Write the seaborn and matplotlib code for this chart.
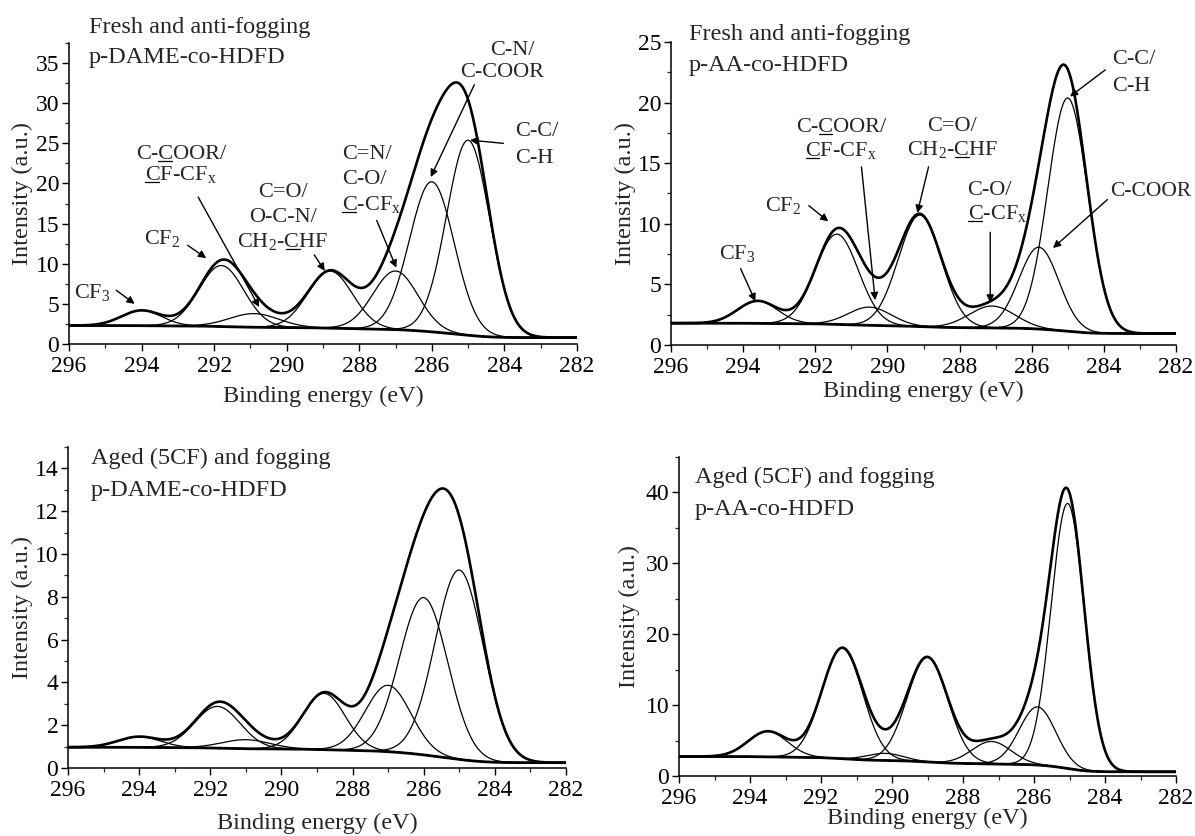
#============================= IMPORT LIBRARIES =============================

import numpy as np
import matplotlib
matplotlib.use("Agg")
import matplotlib.pyplot as plt
from matplotlib.ticker import MultipleLocator
from matplotlib.transforms import offset_copy, IdentityTransform
from matplotlib.text import Text
from matplotlib.lines import Line2D
import seaborn as sns

#============================= DATA =====================
# fitted C1s components: centre (eV), height above background, FWHM (eV)
# background = Shirley step between the high-BE and low-BE levels

p1_center = [294.0, 291.8, 290.9, 288.8, 287.0, 286.0, 285.0]
p1_height = [1.9, 7.6, 1.7, 7.1, 7.3, 18.7, 24.3]
p1_fwhm = [1.3, 1.45, 1.6, 1.45, 1.45, 1.45, 1.4]
p1_bg = [2.3, 0.8]

p2_center = [293.6, 291.4, 290.5, 289.1, 287.1, 285.8, 285.0]
p2_height = [1.85, 7.45, 1.5, 9.2, 1.8, 6.75, 19.25]
p2_fwhm = [1.3, 1.4, 1.4, 1.4, 1.5, 1.3, 1.3]
p2_bg = [1.8, 0.95]

p3_center = [294.0, 291.8, 291.0, 288.8, 287.0, 286.0, 285.0]
p3_height = [0.5, 1.95, 0.42, 2.63, 3.1, 7.35, 8.85]
p3_fwhm = [1.4, 1.5, 1.6, 1.4, 1.5, 1.6, 1.6]
p3_bg = [0.97, 0.25]

p4_center = [293.5, 291.4, 290.2, 289.0, 287.2, 285.9, 285.05]
p4_height = [3.6, 15.6, 1.0, 14.75, 3.15, 8.2, 37.4]
p4_fwhm = [1.3, 1.35, 1.2, 1.35, 1.3, 1.2, 1.1]
p4_bg = [2.75, 0.6]

titles = [["Fresh and anti-fogging", "p-DAME-co-HDFD"],
          ["Fresh and anti-fogging", "p-AA-co-HDFD"],
          ["Aged (5CF) and fogging", "p-DAME-co-HDFD"],
          ["Aged (5CF) and fogging", "p-AA-co-HDFD"]]

y_max = [37.5, 25, 15, 45]
y_major = [5, 5, 2, 10]

#============================= STYLE ========================================

sns.set_style("ticks")
plt.rcParams['font.family'] = ['Liberation Serif', 'DejaVu Serif']
plt.rcParams['mathtext.fontset'] = 'custom'
plt.rcParams['mathtext.rm'] = 'Liberation Serif'
plt.rcParams['mathtext.it'] = 'Liberation Serif:italic'
plt.rcParams['mathtext.bf'] = 'Liberation Serif:bold'

be = np.linspace(296, 282, 701)


def gauss(x, c, h, w):
    return h * np.exp(-4 * np.log(2) * (x - c) ** 2 / w ** 2)


def draw_panel(ax, centers, heights, fwhms, bg):
    comps = [gauss(be, c, h, w) for c, h, w in zip(centers, heights, fwhms)]
    total = np.sum(comps, axis=0)
    # shirley-like step: cumulated area from the low-BE end
    cum = np.cumsum(total[::-1])[::-1]
    back = bg[1] + (bg[0] - bg[1]) * cum / cum[0]
    for comp in comps:
        sns.lineplot(x=be, y=back + comp, ax=ax, color='k', lw=0.9, sort=False)
    sns.lineplot(x=be, y=back, ax=ax, color='k', lw=2.0, sort=False)
    sns.lineplot(x=be, y=back + total, ax=ax, color='k', lw=1.9, sort=False)


# axes boxes in pixels (left, right, bottom, top)
boxes = [(69, 577, 344, 43), (671, 1176, 345, 42),
         (68, 566, 768, 447), (679, 1176, 776, 457)]
W, H = 1195, 836
positions = [[l / W, 1 - b / H, (r - l) / W, (b - t) / H] for l, r, b, t in boxes]
xlabel_y = [396, 391, 823, 818]      # centre of x label, pixels
ylabel_x = [22, 625, 22, 629]        # centre of y label, pixels

fig = plt.figure(figsize=(11.95, 8.36), dpi=100)
axes = [fig.add_axes(p) for p in positions]

params = [(p1_center, p1_height, p1_fwhm, p1_bg),
          (p2_center, p2_height, p2_fwhm, p2_bg),
          (p3_center, p3_height, p3_fwhm, p3_bg),
          (p4_center, p4_height, p4_fwhm, p4_bg)]

title_pos = [(295.45, 39.7, 36.0), (295.5, 25.8, 23.3),
             (295.35, 14.6, 13.1), (295.55, 42.4, 37.9)]

fs = 16
underlines = []


def label(ax, x, y, s, ha='center', ul=None, size=fs):
    # y is the middle of the capitals, text sits on its baseline
    tr = offset_copy(ax.transData, fig=fig, y=-0.33 * size, units='points')
    t = ax.text(x, y, s, fontsize=size, ha=ha, va='baseline', transform=tr)
    if ul is not None:
        underlines.append((t, tr, x, y, ul[0], ul[1], size))
    return t


for i, ax in enumerate(axes):
    draw_panel(ax, *params[i])
    ax.set_xlim(296, 282)
    ax.set_ylim(0, y_max[i])
    ax.xaxis.set_major_locator(MultipleLocator(2))
    ax.xaxis.set_minor_locator(MultipleLocator(1))
    ax.yaxis.set_major_locator(MultipleLocator(y_major[i]))
    ax.yaxis.set_minor_locator(MultipleLocator(y_major[i] / 2))
    ax.tick_params(which='major', direction='out', length=5, width=1.0,
                   labelsize=17, colors='k', pad=2)
    ax.tick_params(axis='x', which='major', pad=4)
    ax.tick_params(which='minor', direction='out', length=3, width=0.9)
    sns.despine(ax=ax)
    for s in ['left', 'bottom']:
        ax.spines[s].set_linewidth(1.1)
        ax.spines[s].set_color('k')
    l, r, b, t = boxes[i]
    ax.set_xlabel("Binding energy (eV)", fontsize=17.5, va='center')
    ax.xaxis.set_label_coords(0.5, (b - xlabel_y[i]) / (b - t))
    ax.set_ylabel("Intensity (a.u.)", fontsize=17.5, va='center')
    ax.yaxis.set_label_coords((ylabel_x[i] - l) / (r - l), 0.5)
    tx, ty1, ty2 = title_pos[i]
    label(ax, tx, ty1, titles[i][0], ha='left', size=17.5)
    label(ax, tx, ty2, titles[i][1], ha='left', size=17.5)

#============================= ANNOTATIONS ==================================

arrow = dict(arrowstyle='-|>', color='k', lw=1.0, mutation_scale=11,
             shrinkA=0, shrinkB=0)

ax = axes[0]
label(ax, 295.35, 6.7, r"CF$_3$")
ax.annotate('', xy=(294.19, 5.0), xytext=(294.7, 6.7), arrowprops=arrow)
label(ax, 293.43, 13.4, r"CF$_2$")
ax.annotate('', xy=(292.22, 10.7), xytext=(292.73, 12.3), arrowprops=arrow)
label(ax, 292.92, 23.9, "C-COOR/", ul=("C-", "C"))
label(ax, 292.92, 21.3, r"CF-CF$_\mathrm{x}$", ul=("", "C"))
ax.annotate('', xy=(290.76, 4.6), xytext=(292.44, 18.3), arrowprops=arrow)
label(ax, 290.1, 19.2, "C=O/")
label(ax, 290.1, 16.1, "O-C-N/")
label(ax, 290.1, 13.0, r"CH$_2$-CHF", ul=(r"CH$_2$-", "C"))
ax.annotate('', xy=(288.95, 9.1), xytext=(289.24, 11.1), arrowprops=arrow)
label(ax, 288.48, 23.9, "C=N/", ha='left')
label(ax, 288.48, 20.8, "C-O/", ha='left')
label(ax, 288.48, 17.6, r"C-CF$_\mathrm{x}$", ha='left', ul=("", "C"))
ax.annotate('', xy=(286.98, 9.5), xytext=(287.52, 15.4), arrowprops=arrow)
label(ax, 283.78, 36.9, "C-N/")
label(ax, 284.06, 34.2, "C-COOR")
ax.annotate('', xy=(286.03, 20.8), xytext=(284.83, 32.3), arrowprops=arrow)
label(ax, 283.71, 26.8, "C-C/", ha='left')
label(ax, 283.71, 23.5, "C-H", ha='left')
ax.annotate('', xy=(284.95, 25.4), xytext=(284.03, 25.0), arrowprops=arrow)

ax = axes[1]
label(ax, 294.17, 7.7, r"CF$_3$")
ax.annotate('', xy=(293.66, 3.6), xytext=(294.07, 6.3), arrowprops=arrow)
label(ax, 292.9, 11.7, r"CF$_2$")
ax.annotate('', xy=(291.64, 10.2), xytext=(292.18, 11.5), arrowprops=arrow)
label(ax, 291.29, 18.2, "C-COOR/", ul=("C-", "C"))
label(ax, 291.29, 16.2, r"CF-CF$_\mathrm{x}$", ul=("", "C"))
ax.annotate('', xy=(290.34, 3.7), xytext=(290.72, 14.7), arrowprops=arrow)
label(ax, 288.2, 18.3, "C=O/")
label(ax, 288.2, 16.3, r"CH$_2$-CHF", ul=(r"CH$_2$-", "C"))
ax.annotate('', xy=(289.17, 10.9), xytext=(288.86, 14.7), arrowprops=arrow)
label(ax, 287.78, 13.0, "C-O/", ha='left')
label(ax, 287.78, 11.0, r"C-CF$_\mathrm{x}$", ha='left', ul=("", "C"))
ax.annotate('', xy=(287.15, 3.5), xytext=(287.15, 9.3), arrowprops=arrow)
label(ax, 283.77, 23.8, "C-C/", ha='left')
label(ax, 283.77, 21.6, "C-H", ha='left')
ax.annotate('', xy=(284.94, 20.5), xytext=(283.96, 22.7), arrowprops=arrow)
label(ax, 283.82, 12.9, "C-COOR", ha='left', size=15.5)
ax.annotate('', xy=(285.41, 8.0), xytext=(283.9, 12.0), arrowprops=arrow)

#==== underlined carbon (mathtext has no \underline) ====

fig.canvas.draw()
renderer = fig.canvas.get_renderer()


def text_width(s, size):
    if s == "":
        return 0.0
    tmp = Text(0, 0, s, fontsize=size, figure=fig)
    return tmp.get_window_extent(renderer).width


for t, tr, x, y, prefix, ch, size in underlines:
    bb = t.get_window_extent(renderer)
    x0 = bb.x0 + text_width(prefix, size)
    x1 = x0 + text_width(ch, size)
    yb = tr.transform((x, y))[1] - 2
    fig.add_artist(Line2D([x0 + 0.5, x1 - 0.5], [yb, yb], color='k', lw=0.9,
                          transform=IdentityTransform()))

fig.savefig("out.png", dpi=100)
